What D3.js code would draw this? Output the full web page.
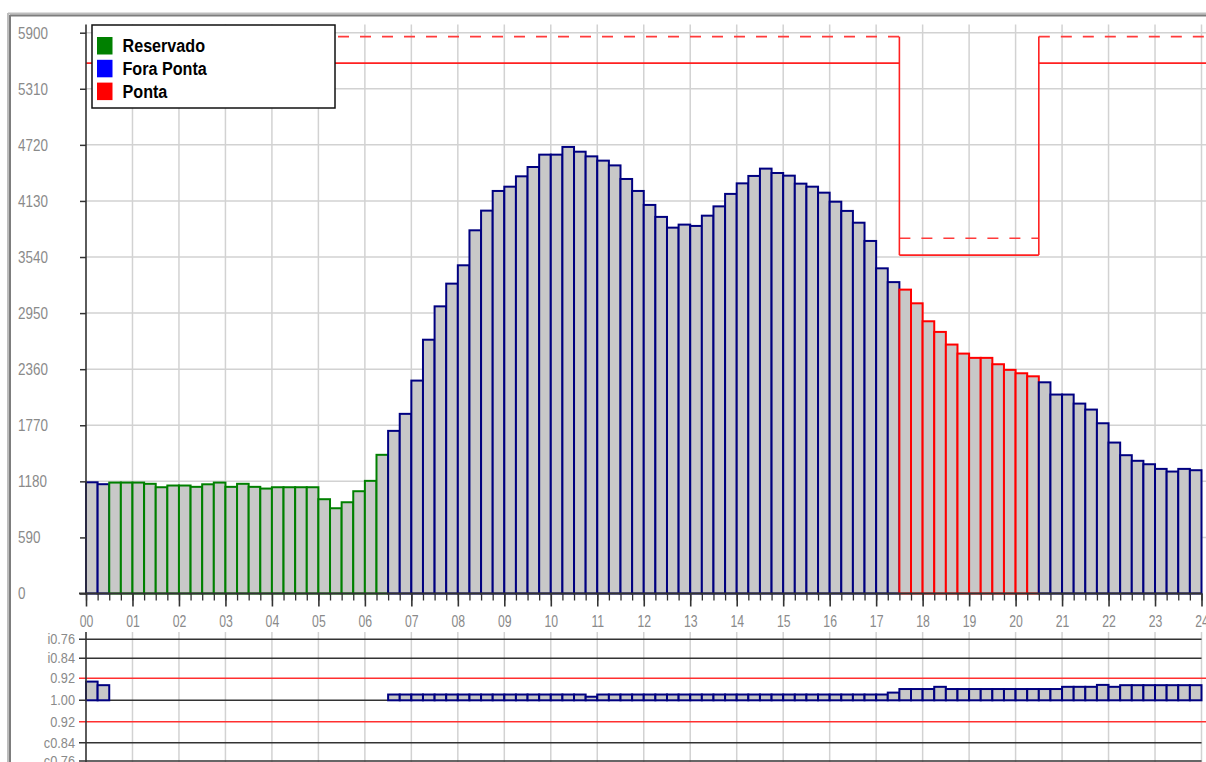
<!DOCTYPE html>
<html>
<head>
<meta charset="utf-8">
<script src="https://cdn.jsdelivr.net/npm/d3@7"></script>
<style>
  html, body { margin: 0; padding: 0; background: #fff; overflow: hidden; }
  svg { display: block; font-family: "Liberation Sans", Arial, sans-serif; }
</style>
</head>
<body>
<svg id="chart" width="1206" height="762"></svg>
<script>
// Demand per 15-minute interval (kW), 96 intervals from 00:00 to 23:45
const demand = [
  1170, 1150, 1167, 1167, 1167, 1154, 1118, 1136,
  1136, 1122, 1149, 1167, 1122, 1154, 1122, 1104,
  1118, 1118, 1118, 1118,  992,  897,  960, 1076,
  1185, 1459, 1711, 1890, 2240, 2670, 3021, 3260,
  3453, 3821, 4028, 4235, 4280, 4389, 4487, 4617,
  4617, 4698, 4648, 4599, 4554, 4504, 4361, 4235,
  4088, 3962, 3849, 3881, 3867, 3975, 4073, 4204,
  4315, 4393, 4470, 4424, 4396, 4312, 4280, 4217,
  4122, 4025, 3901, 3709, 3421, 3276, 3197, 3053,
  2864, 2752, 2619, 2524, 2479, 2479, 2412, 2353,
  2317, 2285, 2222, 2093, 2093, 1998, 1935, 1791,
  1588, 1455, 1396, 1360, 1311, 1283, 1311, 1297
];

// Power factor per interval (null = not measured in that interval)
const powerFactor = [
  0.932, 0.945, null, null, null, null, null, null,
  null, null, null, null, null, null, null, null,
  null, null, null, null, null, null, null, null,
  null, null, 0.979, 0.979, 0.979, 0.979, 0.979, 0.979,
  0.979, 0.979, 0.979, 0.979, 0.979, 0.979, 0.979, 0.979,
  0.979, 0.979, 0.979, 0.987, 0.979, 0.979, 0.979, 0.979,
  0.979, 0.979, 0.979, 0.979, 0.979, 0.979, 0.979, 0.979,
  0.979, 0.979, 0.979, 0.979, 0.979, 0.979, 0.979, 0.979,
  0.979, 0.979, 0.979, 0.979, 0.979, 0.972, 0.959, 0.959,
  0.959, 0.951, 0.959, 0.959, 0.959, 0.959, 0.959, 0.959,
  0.959, 0.959, 0.959, 0.959, 0.951, 0.951, 0.951, 0.944,
  0.951, 0.945, 0.945, 0.945, 0.945, 0.945, 0.945, 0.945
];

// Tariff periods (hours)
const reservadoPeriod = [0.5, 6.5];
const pontaPeriod = [17.5, 20.5];

// Contracted demand and its tolerance limit, per tariff segment
const limitHours    = [0, 17.5, 20.5, 24];
const contracted    = [5580, 3560, 5580];
const tolerance     = [5859, 3738, 5859];

const yTicks = [0, 590, 1180, 1770, 2360, 2950, 3540, 4130, 4720, 5310, 5900];
const hourLabels = ["00","01","02","03","04","05","06","07","08","09","10","11","12",
                    "13","14","15","16","17","18","19","20","21","22","23","24"];

// Power-factor axis: offset from unity (positive = inductive, negative = capacitive)
const pfTickOffsets = [0.24, 0.16, 0.08, 0, -0.08, -0.16, -0.24];
const pfTickLabels  = ["i0.76", "i0.84", "0.92", "1.00", "0.92", "c0.84", "c0.76"];
const pfLimitOffset = 0.08;

const legendItems = ["Reservado", "Fora Ponta", "Ponta"];
const legendColors = ["#008000", "#0000ff", "#ff0000"];

const COL = {
  fora: "#000080", reservado: "#008000", ponta: "#ff0000",
  barFill: "#c8c8c8", grid: "#d2d2d2", axis: "#333333", label: "#8a8a8a",
  limit: "#ff2020", tol: "#ff3a3a"
};

const svg = d3.select("#chart");

const x = d3.scaleLinear().domain([0, 24]).range([86, 1201.5]);
const y = d3.scaleLinear().domain([0, 5900]).range([593.5, 32.7]);
const yPf = d3.scaleLinear()
  .domain([-0.24, -0.16, -0.08, 0, 0.08, 0.16, 0.24])
  .range([761, 742.7, 721.7, 700.3, 678.3, 658.3, 639.3]);

const xRight = 1206;

// ---- window frame
svg.append("line").attr("x1", 8).attr("x2", xRight).attr("y1", 13.5).attr("y2", 13.5)
  .attr("stroke", "#bdbdbd").attr("stroke-width", 2);
svg.append("line").attr("x1", 10).attr("x2", xRight).attr("y1", 15.5).attr("y2", 15.5)
  .attr("stroke", "#7d7d7d").attr("stroke-width", 2);
svg.append("line").attr("x1", 8).attr("x2", 8).attr("y1", 13).attr("y2", 762)
  .attr("stroke", "#bdbdbd").attr("stroke-width", 2);
svg.append("line").attr("x1", 10).attr("x2", 10).attr("y1", 15).attr("y2", 762)
  .attr("stroke", "#7d7d7d").attr("stroke-width", 2);

// ---- main grid
const hours = d3.range(1, 25);
svg.append("g").selectAll("line").data(hours).join("line")
  .attr("x1", d => x(d)).attr("x2", d => x(d))
  .attr("y1", 24.5).attr("y2", y(0))
  .attr("stroke", COL.grid).attr("stroke-width", 1.5);
svg.append("g").selectAll("line").data(yTicks.slice(1)).join("line")
  .attr("x1", x(0)).attr("x2", xRight)
  .attr("y1", d => y(d)).attr("y2", d => y(d))
  .attr("stroke", COL.grid).attr("stroke-width", 1.5);

// ---- demand bars
function periodColor(t) {
  if (t >= reservadoPeriod[0] && t < reservadoPeriod[1]) return COL.reservado;
  if (t >= pontaPeriod[0] && t < pontaPeriod[1]) return COL.ponta;
  return COL.fora;
}
const bars = demand.map((v, i) => ({ t0: i / 4, t1: (i + 1) / 4, v }));
svg.append("g").selectAll("rect").data(bars).join("rect")
  .attr("x", d => x(d.t0))
  .attr("width", d => x(d.t1) - x(d.t0))
  .attr("y", d => y(d.v))
  .attr("height", d => y(0) - y(d.v))
  .attr("fill", COL.barFill)
  .attr("stroke", d => periodColor(d.t0))
  .attr("stroke-width", 2);

// ---- contracted demand (solid) and tolerance (dashed), one segment per tariff period
const segments = contracted.map((c, i) => ({
  h0: limitHours[i], h1: limitHours[i + 1], c, tol: tolerance[i], last: i === contracted.length - 1
}));
const segEnd = d => d.last ? xRight : x(d.h1);
svg.append("g").selectAll("line").data(segments).join("line")
  .attr("x1", d => x(d.h0)).attr("x2", segEnd)
  .attr("y1", d => y(d.c)).attr("y2", d => y(d.c))
  .attr("stroke", COL.limit).attr("stroke-width", 1.6);
svg.append("g").selectAll("line").data(segments).join("line")
  .attr("x1", d => x(d.h0)).attr("x2", segEnd)
  .attr("y1", d => y(d.tol)).attr("y2", d => y(d.tol))
  .attr("stroke", COL.tol).attr("stroke-width", 1.6)
  .attr("stroke-dasharray", "11,11")
  .attr("stroke-dashoffset", (d, i) => i === 0 ? 12 : 0);
// verticals where the contract changes, spanning tolerance top to contract bottom
svg.append("g").selectAll("line").data(limitHours.slice(1, -1)).join("line")
  .attr("x1", d => x(d)).attr("x2", d => x(d))
  .attr("y1", y(d3.max(tolerance))).attr("y2", y(d3.min(contracted)))
  .attr("stroke", COL.limit).attr("stroke-width", 1.6);

// ---- y axis (demand)
const yAxis = svg.append("g").attr("transform", `translate(${x(0)},0)`)
  .call(d3.axisLeft(y).tickValues(yTicks).tickSize(6).tickSizeOuter(0).tickFormat(d3.format("d")));
yAxis.select(".domain").remove();
yAxis.selectAll(".tick line").attr("stroke", COL.axis).attr("stroke-width", 1.5);
yAxis.selectAll(".tick text")
  .attr("x", 0).attr("dy", "0.34em")
  .attr("text-anchor", "start")
  .attr("transform", "translate(-68,0) scale(0.84,1)")
  .attr("fill", COL.label).style("font-size", "16px");
svg.append("line").attr("x1", x(0)).attr("x2", x(0)).attr("y1", 24.5).attr("y2", y(0) + 1)
  .attr("stroke", COL.axis).attr("stroke-width", 1.6);

// ---- x axis (time)
const xBase = y(0);
const quarterAxis = svg.append("g").attr("transform", `translate(0,${xBase})`)
  .call(d3.axisBottom(x).tickValues(d3.range(0, 24.01, 0.25)).tickSize(7).tickFormat(""));
quarterAxis.select(".domain").remove();
quarterAxis.selectAll(".tick line").attr("stroke", COL.axis).attr("stroke-width", 1.3);
const hourAxis = svg.append("g").attr("transform", `translate(0,${xBase})`)
  .call(d3.axisBottom(x).tickValues(d3.range(0, 25)).tickSize(13)
        .tickFormat((d, i) => hourLabels[i]));
hourAxis.select(".domain").remove();
hourAxis.selectAll(".tick line").attr("stroke", COL.axis).attr("stroke-width", 1.6);
hourAxis.selectAll(".tick text")
  .attr("y", 21).attr("transform", "scale(0.72,1)")
  .attr("fill", COL.label).style("font-size", "17px");
svg.append("line").attr("x1", 79).attr("x2", x(24)).attr("y1", xBase).attr("y2", xBase)
  .attr("stroke", COL.axis).attr("stroke-width", 1.8);

// ---- power factor panel
svg.append("g").selectAll("line").data(hours).join("line")
  .attr("x1", d => x(d)).attr("x2", d => x(d))
  .attr("y1", 632).attr("y2", 762)
  .attr("stroke", COL.grid).attr("stroke-width", 1.5);
svg.append("g").selectAll("line").data(pfTickOffsets).join("line")
  .attr("x1", 79)
  .attr("x2", d => Math.abs(d) === pfLimitOffset ? xRight : x(24))
  .attr("y1", d => yPf(d)).attr("y2", d => yPf(d))
  .attr("stroke", d => Math.abs(d) === pfLimitOffset ? "#ff3030" : COL.axis)
  .attr("stroke-width", d => Math.abs(d) === pfLimitOffset ? 1.4 : 1.6);

const pfBars = powerFactor.map((pf, i) => ({ t0: i / 4, t1: (i + 1) / 4, pf }))
  .filter(d => d.pf !== null);
svg.append("g").selectAll("rect").data(pfBars).join("rect")
  .attr("x", d => x(d.t0))
  .attr("width", d => x(d.t1) - x(d.t0))
  .attr("y", d => yPf(1 - d.pf))
  .attr("height", d => yPf(0) - yPf(1 - d.pf))
  .attr("fill", COL.barFill)
  .attr("stroke", COL.fora).attr("stroke-width", 2);

svg.append("line").attr("x1", x(0)).attr("x2", x(0)).attr("y1", 632).attr("y2", 762)
  .attr("stroke", COL.axis).attr("stroke-width", 1.6);
svg.append("g").selectAll("text").data(pfTickOffsets).join("text")
  .attr("transform", d => `translate(75,${yPf(d)}) scale(0.85,1)`)
  .attr("dy", "0.34em")
  .attr("text-anchor", "end")
  .attr("fill", COL.label).style("font-size", "15px")
  .text((d, i) => pfTickLabels[i]);

// ---- legend
const legend = svg.append("g");
legend.append("rect").attr("x", 92).attr("y", 25).attr("width", 243).attr("height", 83)
  .attr("fill", "#fff").attr("stroke", "#111").attr("stroke-width", 1.5);
const li = legend.selectAll("g.item").data(legendItems).join("g").attr("class", "item")
  .attr("transform", (d, i) => `translate(97,${37 + i * 22.8})`);
li.append("rect").attr("width", 15.5).attr("height", 17.5)
  .attr("fill", (d, i) => legendColors[i]);
li.append("text")
  .attr("transform", "translate(25.5,15.3) scale(0.85,1)")
  .attr("fill", "#000").style("font-size", "19px").style("font-weight", "bold")
  .text(d => d);
</script>
</body>
</html>
